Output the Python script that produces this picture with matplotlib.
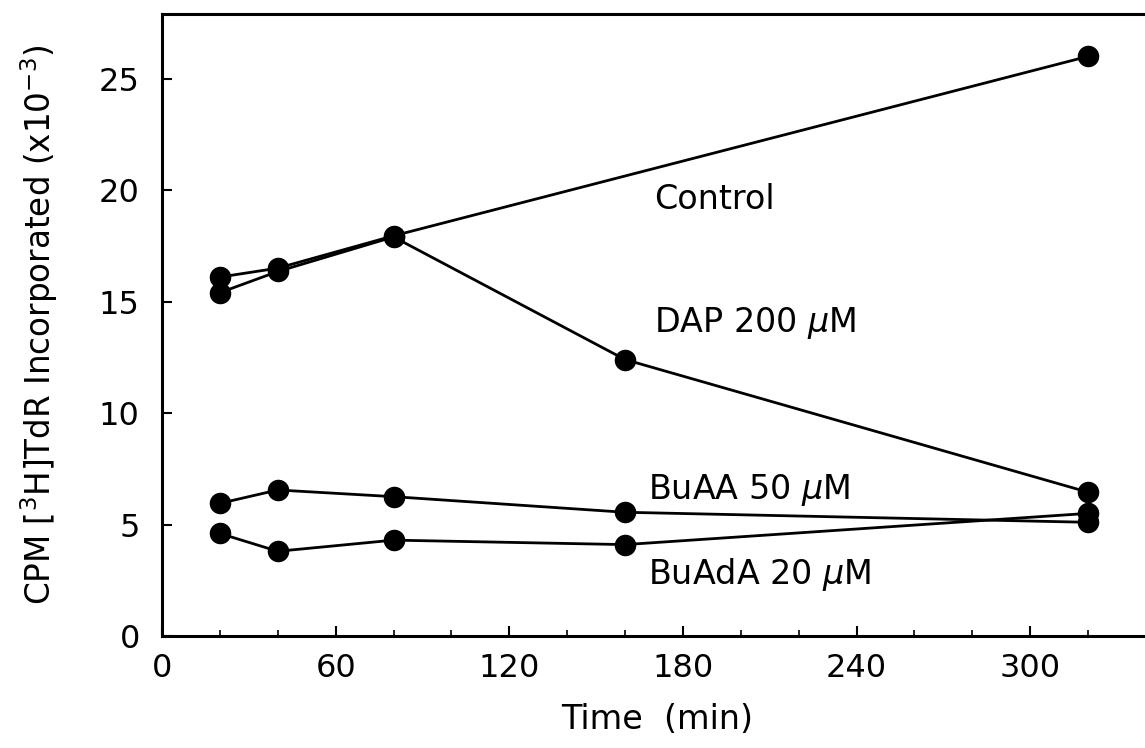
import matplotlib
matplotlib.use("Agg")
import matplotlib.pyplot as plt
from matplotlib.ticker import MultipleLocator

plt.rcParams['font.family'] = ['DejaVu Sans']
plt.rcParams['mathtext.fontset'] = 'dejavusans'

# Data (time in min, CPM x10^-3)
control_t = [20, 40, 80, 320]
control_y = [16.1, 16.5, 17.95, 26.0]

dap_t = [20, 40, 80, 160, 320]
dap_y = [15.4, 16.35, 17.9, 12.4, 6.45]

buaa_t = [20, 40, 80, 160, 320]
buaa_y = [5.95, 6.55, 6.25, 5.55, 5.1]

buada_t = [20, 40, 80, 160, 320]
buada_y = [4.6, 3.8, 4.3, 4.1, 5.5]

labels = ["Control", "DAP 200 $\\mu$M", "BuAA 50 $\\mu$M", "BuAdA 20 $\\mu$M"]
label_pos = [(170, 19.6), (170, 14.05), (168, 6.55), (168, 2.75)]

W, H = 1145, 748
fig = plt.figure(figsize=(W / 100, H / 100), dpi=100)
ax = fig.add_axes([162 / W, (H - 636) / H, (1152 - 162) / W, (636 - 14) / H])

for t, y in [(control_t, control_y), (dap_t, dap_y), (buaa_t, buaa_y), (buada_t, buada_y)]:
    ax.plot(t, y, color='black', lw=2.0, marker='o', markersize=14.5,
            markerfacecolor='black', markeredgecolor='black', clip_on=False)

for (x, y), s in zip(label_pos, labels):
    ax.text(x, y, s, fontsize=24, ha='left', va='center')

ax.set_xlim(0, (1152 - 162) / 2.894)
ax.set_ylim(0, 27.9)
ax.xaxis.set_major_locator(MultipleLocator(60))
ax.xaxis.set_minor_locator(MultipleLocator(20))
ax.yaxis.set_major_locator(MultipleLocator(5))

ax.tick_params(axis='both', which='major', direction='in', length=7, width=1.5,
               labelsize=23, top=False, right=False)
ax.tick_params(axis='x', which='major', pad=12)
ax.tick_params(axis='y', which='major', pad=16)
ax.tick_params(axis='x', which='minor', direction='in', length=4, width=1.2, top=False)

for sp in ax.spines.values():
    sp.set_linewidth(2.2)

ax.set_xlabel("Time  (min)", fontsize=24, labelpad=14)
ax.set_ylabel("CPM [$^3$H]TdR Incorporated (x10$^{-3}$)", fontsize=23.5, labelpad=28)

fig.savefig("out.png", dpi=100)
